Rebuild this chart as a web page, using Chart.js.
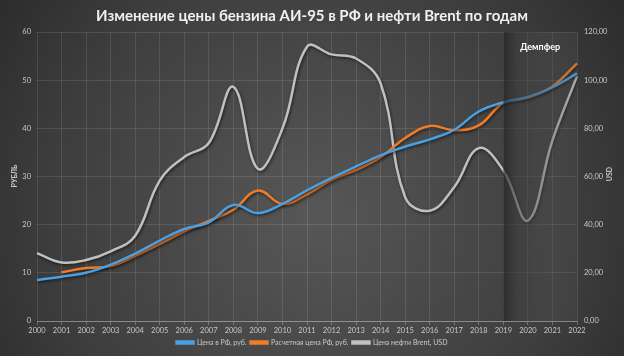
<!DOCTYPE html>
<html>
<head>
<meta charset="utf-8">
<script src="https://cdn.jsdelivr.net/npm/chart.js@4/dist/chart.umd.min.js"></script>
<style>
  html, body { margin: 0; padding: 0; background: #333; }
  #wrap { width: 624px; height: 356px; position: relative; }
</style>
</head>
<body>
<div id="wrap"><canvas id="c" width="624" height="356"></canvas></div>
<script>
const years = ['2000','2001','2002','2003','2004','2005','2006','2007','2008','2009','2010','2011','2012','2013','2014','2015','2016','2017','2018','2019','2020','2021','2022'];
const priceRF = [8.5, 9.2, 10.0, 11.7, 14.0, 16.7, 19.1, 20.5, 24.1, 22.4, 24.3, 27.1, 29.7, 32.1, 34.4, 36.2, 37.7, 39.7, 43.5, 45.4, 46.5, 48.5, 51.4];
const calcPriceRF = [null, 10.1, 11.0, 11.4, 13.5, 16.0, 18.6, 20.8, 23.1, 27.1, 24.3, 26.3, 29.3, 31.4, 34.0, 38.0, 40.5, 39.6, 40.6, 45.3, 46.4, 48.7, 53.5];
const brentUSD = [28.2, 24.3, 25.3, 28.9, 35.4, 58.3, 68.1, 73.9, 97.2, 63.2, 79.9, 113.9, 110.7, 109.0, 98.6, 51.4, 45.8, 55.6, 71.8, 62.5, 41.7, 75.0, 101.7];
const leftTicks = [0, 10, 20, 30, 40, 50, 60];
const rightTicks = [0, 20, 40, 60, 80, 100, 120];
const seriesNames = ['Цена в РФ, руб.', 'Расчетная цена РФ, руб.', 'Цена нефти Brent, USD'];
const titleText = 'Изменение цены бензина АИ-95 в РФ и нефти Brent по годам';
const damperLabel = 'Демпфер';
const damperFrom = '2019', damperTo = '2022';

const tickColor = '#c8c8c8';
const gridColor = 'rgba(255,255,255,0.11)';

const bgPlugin = {
  id: 'bg',
  beforeDraw(chart) {
    const ctx = chart.ctx, w = chart.width, h = chart.height;
    ctx.save();
    const g = ctx.createRadialGradient(w * 0.5, h * 0.6, 10, w * 0.5, h * 0.6, 420);
    g.addColorStop(0, '#565656');
    g.addColorStop(0.6, '#3e3e3e');
    g.addColorStop(1, '#262626');
    ctx.fillStyle = g;
    ctx.fillRect(0, 0, w, h);
    ctx.fillStyle = '#f0f0f0';
    ctx.font = 'bold 15px Lato';
    ctx.textAlign = 'center';
    ctx.textBaseline = 'middle';
    ctx.fillText(titleText, w / 2, 16);
    ctx.fillStyle = '#c8c8c8';
    ctx.font = 'bold 7px Lato';
    ctx.save();
    ctx.translate(15, 176);
    ctx.rotate(-Math.PI / 2);
    ctx.fillText('РУБЛЬ', 0, 0);
    ctx.restore();
    ctx.save();
    ctx.translate(610, 174);
    ctx.rotate(-Math.PI / 2);
    ctx.fillText('USD', 0, 0);
    ctx.restore();
    ctx.restore();
  }
};

const shadowPlugin = {
  id: 'shadow',
  beforeDatasetsDraw(chart) {
    const ctx = chart.ctx;
    ctx.save();
    ctx.shadowColor = 'rgba(0,0,0,0.55)';
    ctx.shadowBlur = 3;
    ctx.shadowOffsetX = 1;
    ctx.shadowOffsetY = 1.5;
  },
  afterDatasetsDraw(chart) {
    chart.ctx.restore();
    const ctx = chart.ctx, a = chart.chartArea, xs = chart.scales.x;
    const x0 = xs.getPixelForValue(years.indexOf(damperFrom));
    const x1 = xs.getPixelForValue(years.indexOf(damperTo));
    ctx.save();
    const g = ctx.createLinearGradient(x0, 0, x1, 0);
    g.addColorStop(0, 'rgba(35,35,35,0.7)');
    g.addColorStop(0.18, 'rgba(60,60,60,0.55)');
    g.addColorStop(0.5, 'rgba(75,75,75,0.42)');
    g.addColorStop(1, 'rgba(90,90,90,0.2)');
    ctx.fillStyle = g;
    ctx.fillRect(x0, a.top, x1 - x0, a.bottom - a.top);
    ctx.fillStyle = '#ffffff';
    ctx.font = 'bold 9px Lato';
    ctx.textAlign = 'center';
    ctx.textBaseline = 'middle';
    ctx.fillText(damperLabel, (x0 + x1) / 2, 47);
    ctx.restore();
  }
};

new Chart(document.getElementById('c'), {
  type: 'line',
  data: {
    labels: years,
    datasets: [
      { label: seriesNames[0], data: priceRF, yAxisID: 'y', borderColor: '#4a9fe3', backgroundColor: '#4a9fe3', borderWidth: 2.5, pointRadius: 0, tension: 0.4, fill: false },
      { label: seriesNames[1], data: calcPriceRF, yAxisID: 'y', borderColor: '#f07b28', backgroundColor: '#f07b28', borderWidth: 2.5, pointRadius: 0, tension: 0.4, fill: false },
      { label: seriesNames[2], data: brentUSD, yAxisID: 'y1', borderColor: '#c0c0c0', backgroundColor: '#c0c0c0', borderWidth: 2.5, pointRadius: 0, tension: 0.4, fill: false }
    ]
  },
  options: {
    responsive: false,
    animation: false,
    layout: { padding: { top: 32, left: 0, right: 0, bottom: 0 } },
    plugins: {
      title: { display: false },
      tooltip: { enabled: false },
      legend: {
        position: 'bottom',
        labels: {
          color: '#c8c8c8',
          font: { family: 'Lato', size: 7 },
          boxWidth: 17,
          boxHeight: 2,
          padding: 4
        }
      }
    },
    scales: {
      x: {
        offset: false,
        grid: { color: gridColor, drawTicks: true, tickLength: 4, tickColor: 'rgba(255,255,255,0.25)' },
        border: { color: 'rgba(255,255,255,0.3)' },
        ticks: { color: tickColor, font: { family: 'Lato', size: 7.5 }, maxRotation: 0, autoSkip: false, padding: 1 },
        afterFit(s) { s.height = 14; }
      },
      y: {
        position: 'left',
        min: 0, max: 60,
        afterBuildTicks(s) { s.ticks = leftTicks.map(v => ({ value: v })); },
        grid: { color: gridColor, drawTicks: false },
        border: { display: false },
        ticks: { color: tickColor, font: { family: 'Lato', size: 7.5 }, padding: 6 },
        afterFit(s) { s.width = 37; }
      },
      y1: {
        position: 'right',
        min: 0, max: 120,
        afterBuildTicks(s) { s.ticks = rightTicks.map(v => ({ value: v })); },
        grid: { drawOnChartArea: false, drawTicks: false },
        border: { display: false },
        ticks: { color: tickColor, font: { family: 'Lato', size: 7.5 }, padding: 7, callback: v => v.toFixed(2).replace('.', ',') },
        afterFit(s) { s.width = 47; }
      }
    }
  },
  plugins: [bgPlugin, shadowPlugin]
});
</script>
</body>
</html>
